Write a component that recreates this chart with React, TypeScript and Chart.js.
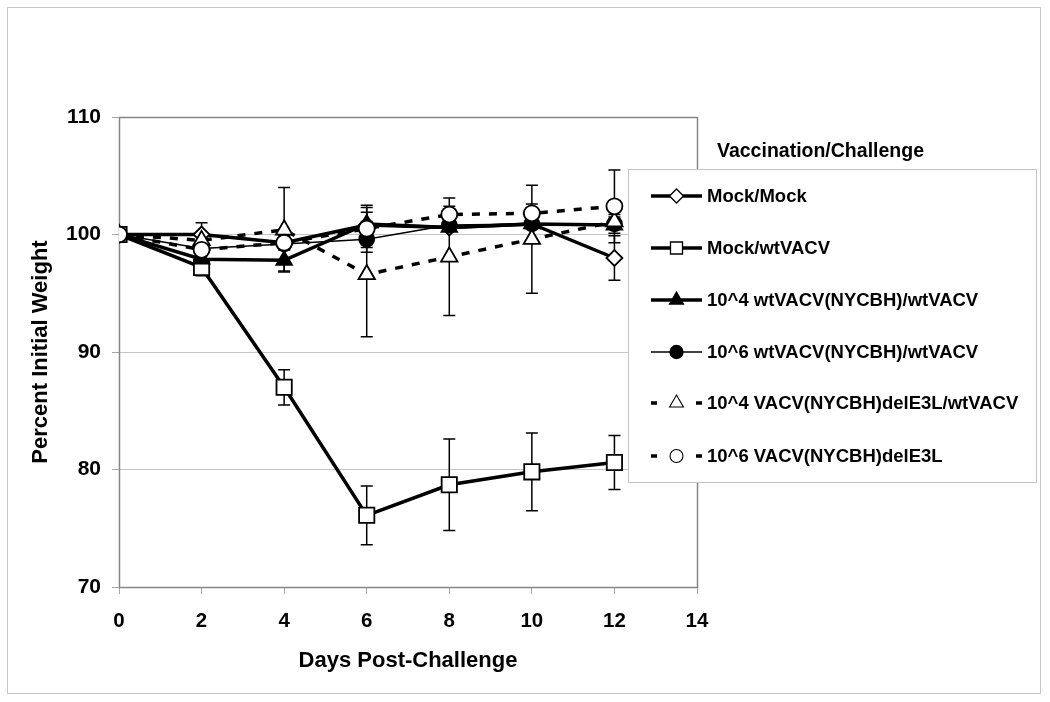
import React, { useEffect, useRef } from 'react';
import { Chart, registerables } from 'chart.js';

Chart.register(...registerables);

// ---------- data ----------
const days = [0, 2, 4, 6, 8, 10, 12];
const xTicks = [0, 2, 4, 6, 8, 10, 12, 14];
const yTicks = [70, 80, 90, 100, 110];

const seriesNames = [
  'Mock/Mock',
  'Mock/wtVACV',
  '10^4 wtVACV(NYCBH)/wtVACV',
  '10^6 wtVACV(NYCBH)/wtVACV',
  '10^4 VACV(NYCBH)delE3L/wtVACV',
  '10^6 VACV(NYCBH)delE3L',
];

const mockMock = [100, 100.0, 99.3, 100.8, 100.6, 100.9, 98.0];
const mockMockErr = [0, 1.0, 0, 0.3, 0.3, 0.3, 1.9];
const mockWt = [100, 97.2, 87.0, 76.1, 78.7, 79.8, 80.6];
const mockWtErr = [0, 0.7, 1.5, 2.5, 3.9, 3.3, 2.3];
const wt4 = [100, 97.9, 97.8, 100.9, 100.6, 100.9, 100.8];
const wt4Err = [0, 0.4, 0.9, 1.4, 0.3, 0.3, 0.7];
const wt6 = [100, 98.8, 99.2, 99.6, 100.8, 100.9, 100.9];
const wt6Err = [0, 0.3, 0.4, 0.7, 0.4, 0.4, 0.4];
const del4 = [100, 99.5, 100.4, 96.6, 98.1, 99.6, 101.1];
const del4Err = [0, 0.5, 3.6, 5.3, 5.0, 4.6, 0.6];
const del6 = [100, 98.7, 99.3, 100.5, 101.7, 101.8, 102.4];
const del6Err = [0, 0.5, 0.6, 2.0, 0.7, 0.8, 3.1];

const seriesValues = [mockMock, mockWt, wt4, wt6, del4, del6];
const seriesErrors = [mockMockErr, mockWtErr, wt4Err, wt6Err, del4Err, del6Err];

// ---------- styles ----------
const FONT = "'Liberation Sans', Arial, sans-serif";
type Style = {
  point: string;
  radius: number;
  fill: string;
  width: number;
  dash: number[];
  order: number;
  legendRadius: number;
  legendBorder: number;
};
const styles: Style[] = [
  { point: 'rectRot', radius: 8, fill: '#ffffff', width: 3.5, dash: [], order: 5, legendRadius: 7, legendBorder: 1.3 },
  { point: 'rect', radius: 10.8, fill: '#ffffff', width: 3.5, dash: [], order: 4, legendRadius: 8.5, legendBorder: 1.3 },
  { point: 'triangle', radius: 9, fill: '#000000', width: 3.5, dash: [], order: 3, legendRadius: 8, legendBorder: 1.3 },
  { point: 'circle', radius: 7.5, fill: '#000000', width: 1.5, dash: [], order: 2, legendRadius: 6.5, legendBorder: 1.3 },
  { point: 'triangle', radius: 9.5, fill: '#ffffff', width: 3.5, dash: [8, 9], order: 1, legendRadius: 8, legendBorder: 1.1 },
  { point: 'circle', radius: 8, fill: '#ffffff', width: 3.5, dash: [8, 9], order: 0, legendRadius: 6.5, legendBorder: 1.1 },
];

function drawMarker(ctx: CanvasRenderingContext2D, style: string, x: number, y: number, r: number) {
  ctx.beginPath();
  if (style === 'circle') {
    ctx.arc(x, y, r, 0, Math.PI * 2);
  } else if (style === 'rect') {
    const s = r * Math.SQRT1_2;
    ctx.rect(x - s, y - s, 2 * s, 2 * s);
  } else if (style === 'rectRot') {
    ctx.moveTo(x, y - r);
    ctx.lineTo(x + r, y);
    ctx.lineTo(x, y + r);
    ctx.lineTo(x - r, y);
  } else if (style === 'triangle') {
    let a = 0;
    ctx.moveTo(x + Math.sin(a) * r, y - Math.cos(a) * r);
    a += (2 * Math.PI) / 3;
    ctx.lineTo(x + Math.sin(a) * r, y - Math.cos(a) * r);
    a += (2 * Math.PI) / 3;
    ctx.lineTo(x + Math.sin(a) * r, y - Math.cos(a) * r);
  }
  ctx.closePath();
  ctx.fill();
  ctx.stroke();
}

const framePlugin = {
  id: 'frame',
  beforeDraw(chart: any) {
    const ctx = chart.ctx;
    ctx.save();
    ctx.fillStyle = '#ffffff';
    ctx.fillRect(0, 0, chart.width, chart.height);
    ctx.strokeStyle = '#c8c8c8';
    ctx.lineWidth = 1;
    ctx.strokeRect(7.5, 7.5, 1033, 686);
    ctx.restore();
  },
  beforeDatasetsDraw(chart: any) {
    const ctx = chart.ctx;
    const a = chart.chartArea;
    ctx.save();
    ctx.strokeStyle = '#868686';
    ctx.lineWidth = 1.5;
    ctx.strokeRect(Math.round(a.left) + 0.5, Math.round(a.top) + 0.5, Math.round(a.right - a.left), Math.round(a.bottom - a.top));
    // error bars (behind markers)
    const xs = chart.scales.x;
    const ys = chart.scales.y;
    ctx.strokeStyle = '#000000';
    ctx.lineWidth = 1.5;
    seriesValues.forEach((vals, i) => {
      const errs = seriesErrors[i];
      vals.forEach((v, j) => {
        const e = errs[j];
        if (!e) return;
        const x = xs.getPixelForValue(days[j]);
        const y1 = ys.getPixelForValue(v + e);
        const y2 = ys.getPixelForValue(v - e);
        ctx.beginPath();
        ctx.moveTo(x, y1);
        ctx.lineTo(x, y2);
        ctx.moveTo(x - 6, y1);
        ctx.lineTo(x + 6, y1);
        ctx.moveTo(x - 6, y2);
        ctx.lineTo(x + 6, y2);
        ctx.stroke();
      });
    });
    ctx.restore();
  },
  afterDraw(chart: any) {
    const ctx = chart.ctx;
    ctx.save();
    // legend title
    ctx.fillStyle = '#000000';
    ctx.font = `bold 19.5px ${FONT}`;
    ctx.textBaseline = 'middle';
    ctx.textAlign = 'left';
    ctx.fillText('Vaccination/Challenge', 717, 152);
    // legend box
    ctx.fillStyle = '#ffffff';
    ctx.fillRect(628, 169, 409, 314);
    ctx.strokeStyle = '#c4c4c4';
    ctx.lineWidth = 1;
    ctx.strokeRect(628.5, 169.5, 408, 313);
    const rowsY = [196, 248, 300, 352, 403, 456];
    seriesNames.forEach((name, i) => {
      const st = styles[i];
      const y = rowsY[i];
      ctx.strokeStyle = '#000000';
      ctx.lineWidth = st.width;
      ctx.setLineDash([]);
      ctx.beginPath();
      if (st.dash.length) {
        ctx.moveTo(651, y);
        ctx.lineTo(657, y);
        ctx.moveTo(696, y);
        ctx.lineTo(702, y);
      } else {
        ctx.moveTo(651, y);
        ctx.lineTo(702, y);
      }
      ctx.stroke();
      ctx.fillStyle = st.fill;
      ctx.lineWidth = st.legendBorder;
      drawMarker(ctx, st.point, 676.5, y, st.legendRadius);
      ctx.fillStyle = '#000000';
      ctx.font = `bold 18.5px ${FONT}`;
      ctx.textBaseline = 'middle';
      ctx.fillText(name, 707, y + 1);
    });
    ctx.restore();
  },
};

export default function App() {
  const ref = useRef<HTMLCanvasElement | null>(null);
  useEffect(() => {
    if (!ref.current) return;
    const datasets = seriesNames.map((name, i) => {
      const st = styles[i];
      return {
        label: name,
        data: days.map((d, j) => ({ x: d, y: seriesValues[i][j] })),
        borderColor: '#000000',
        backgroundColor: st.fill,
        borderWidth: st.width,
        borderDash: st.dash,
        pointStyle: st.point,
        pointRadius: st.radius,
        pointBackgroundColor: st.fill,
        pointBorderColor: '#000000',
        pointBorderWidth: 1.8,
        tension: 0,
        order: st.order,
        fill: false,
      };
    });
    const chart = new Chart(ref.current, {
      type: 'line',
      data: { datasets },
      plugins: [framePlugin],
      options: {
        animation: false,
        responsive: false,
        layout: { padding: { left: 0, top: 117, right: 353, bottom: 28 } },
        plugins: { legend: { display: false }, tooltip: { enabled: false } },
        scales: {
          x: {
            type: 'linear',
            min: xTicks[0],
            max: xTicks[xTicks.length - 1],
            afterBuildTicks: (s: any) => {
              s.ticks = xTicks.map((v) => ({ value: v }));
            },
            afterFit: (s: any) => {
              s.height = 87;
            },
            border: { display: false },
            grid: { drawOnChartArea: false, tickLength: 7, tickColor: '#a8a8a8', lineWidth: 1 },
            ticks: {
              color: '#000000',
              padding: 15,
              font: { family: FONT, size: 20.5, weight: 'bold' },
              maxRotation: 0,
            },
            title: {
              display: true,
              text: 'Days Post-Challenge',
              color: '#000000',
              padding: 0,
              font: { family: FONT, size: 22, weight: 'bold' },
            },
          },
          y: {
            min: yTicks[0],
            max: yTicks[yTicks.length - 1],
            afterBuildTicks: (s: any) => {
              s.ticks = yTicks.map((v) => ({ value: v }));
            },
            afterFit: (s: any) => {
              s.width = 119;
            },
            border: { display: false },
            grid: { color: '#c6c6c6', tickColor: '#a8a8a8', tickLength: 7, lineWidth: 1 },
            ticks: {
              color: '#000000',
              padding: 11,
              font: { family: FONT, size: 21, weight: 'bold' },
            },
            title: {
              display: true,
              text: 'Percent Initial Weight',
              color: '#000000',
              padding: { top: 28, bottom: 0 },
              font: { family: FONT, size: 22, weight: 'bold' },
            },
          },
        },
      } as any,
    });
    return () => chart.destroy();
  }, []);
  return (
    <div style={{ position: 'absolute', left: 0, top: 0, width: 1050, height: 702 }}>
      <canvas ref={ref} width={1050} height={702} style={{ display: 'block' }} />
    </div>
  );
}
